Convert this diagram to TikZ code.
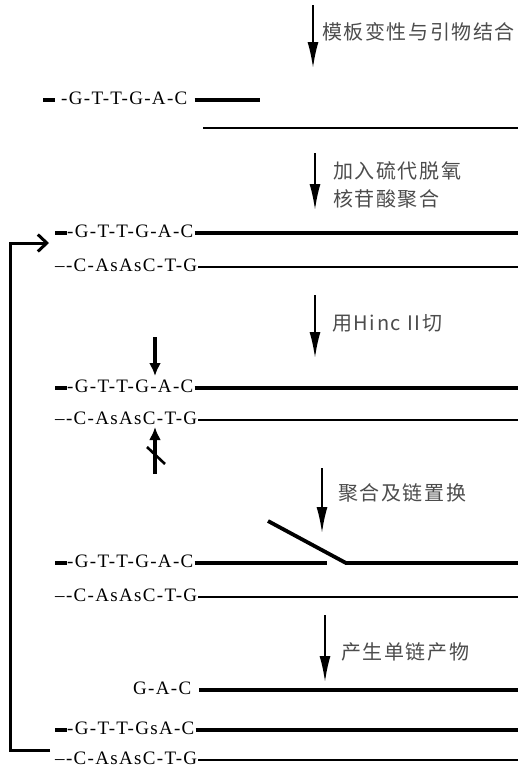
\documentclass[tikz,border=0pt]{standalone}
\usepackage{fontspec}
\setmainfont{Liberation Serif}
\newfontfamily\dna{Liberation Serif}[LetterSpace=7]
\newfontfamily\cjk{Noto Sans CJK SC}[LetterSpace=8]
\usetikzlibrary{arrows.meta,positioning}
\newcommand\strbar{\rule[2.6pt]{12pt}{3.8pt}}

\begin{document}
\begin{tikzpicture}[x=1pt, y=-1pt,
  seq/.style={anchor=west, inner sep=0pt, text height=9pt, text depth=0pt, font=\dna\fontsize{19}{19}\selectfont},
  lab/.style={anchor=west, inner sep=0pt, align=left, text=black!70, font=\cjk\fontsize{20}{28}\selectfont},
  thk/.style={line width=3.8pt},
  thn/.style={line width=1.9pt},
  stp/.style={-{Latex[length=26pt, width=11pt]}, line width=1.8pt},
  cut/.style={-{Latex[length=13pt, width=12pt]}, line width=4pt},
  back/.style={-{Straight Barb[length=9pt, width=17pt]}, line width=3pt}]
\useasboundingbox (0,0) rectangle (518,769);
% step arrows and their labels
\foreach \n/\x/\ya/\yb in {1/313/5/68, 2/315/153/210, 3/315/295/358, 4/322/468/533, 5/325/615/682} {
  \coordinate (s\n a) at (\x,\ya);
  \coordinate (s\n b) at (\x,\yb);
  \draw[stp] (s\n a) -- (s\n b);
}
\node[lab] (l1) at (322,32) {模板变性与引物结合};
\node[lab] (l2) at (333,185) {加入硫代脱氧\\核苷酸聚合};
\node[lab] (l3) at (332,323) {用Hinc~II切};
\node[lab] (l4) at (338,493) {聚合及链置换};
\node[lab] (l5) at (341,652) {产生单链产物};
% primer on template
\node[seq] (p) at (43,100) {\strbar\hspace{6pt}-G-T-T-G-A-C};
\coordinate (pr) at (260,100);
\draw[thk] ([xshift=7pt]p.east) -- (pr);
\coordinate (tl) at (203,128);
\coordinate (tr) at (518,128);
\draw[line width=2.4pt] (tl) -- (tr);
% duplex rows
\foreach \n/\y/\s in {a/233/-G-T-T-G-A-C, b/388/-G-T-T-G-A-C, c/563/-G-T-T-G-A-C, d/730/-G-T-T-GsA-C} {
  \node[seq] (top\n) at (55,\y) {\strbar\s};
  \coordinate (topr\n) at (518,\y);
}
\foreach \n/\y in {a/267, b/420, c/597, d/760} {
  \node[seq] (bot\n) at (55,\y) {–-C-AsAsC-T-G};
  \coordinate (botr\n) at (518,\y);
  \draw[thn] ([xshift=1pt]bot\n.east) -- (botr\n);
}
\foreach \n in {a,b,d} \draw[thk] ([xshift=1pt]top\n.east) -- (topr\n);
% strand displacement
\coordinate (nick) at (327,563);
\coordinate (flap) at (268,521);
\coordinate (foot) at (346,563);
\draw[thk] ([xshift=1pt]topc.east) -- (nick);
\draw[thk] (flap) -- (foot) -- (toprc);
% single strand product
\node[seq] (g) at (133,690) {G-A-C};
\coordinate (gr) at (518,690);
\draw[thk] ([xshift=8pt]g.east) -- (gr);
% Hinc II cut / no cut
\coordinate (k1) at (155,337);
\coordinate (k2) at (155,376);
\draw[cut] (k1) -- (k2);
\coordinate (k3) at (155,474);
\coordinate (k4) at (155,427);
\draw[cut] (k3) -- (k4);
\draw[line width=2.6pt] (147,447) -- (165,464);
% back to the start
\coordinate (lpa) at (50,750);
\coordinate (lpb) at (49,243);
\draw[back] (lpa) -- ++(-40,0) |- (lpb);
\end{tikzpicture}
\end{document}
